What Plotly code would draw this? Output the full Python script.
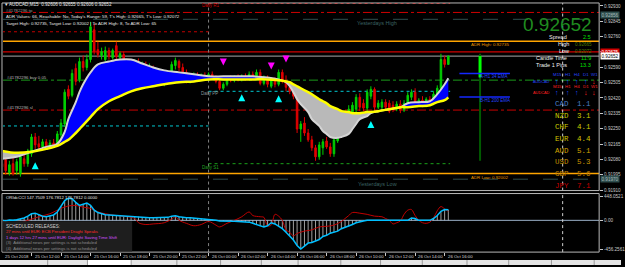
import numpy as np
import plotly.graph_objects as go

W, H = 625, 267
FONT = "Liberation Sans"
MONO = "Liberation Mono"

# ---------------- data ----------------
opens = [0.92056, 0.92078, 0.92006, 0.92056, 0.92017, 0.92001, 0.92083, 0.92056, 0.92111, 0.92204,
         0.92166, 0.92149, 0.92177, 0.92155, 0.92171, 0.92160, 0.92215, 0.92276, 0.92468, 0.92435,
         0.92584, 0.92523, 0.92622, 0.92589, 0.92633, 0.92798, 0.92688, 0.92655, 0.92633, 0.92683,
         0.92644, 0.92710, 0.92644, 0.92661, 0.92611, 0.92567, 0.92589, 0.92617, 0.92567, 0.92606,
         0.92556, 0.92589, 0.92562, 0.92540, 0.92496, 0.92523, 0.92545, 0.92600, 0.92622, 0.92589,
         0.92562, 0.92518, 0.92523, 0.92545, 0.92529, 0.92545, 0.92534, 0.92551, 0.92529, 0.92512,
         0.92474, 0.92496, 0.92523, 0.92518, 0.92534, 0.92523, 0.92540, 0.92529, 0.92551, 0.92534,
         0.92562, 0.92501, 0.92529, 0.92485, 0.92518, 0.92496, 0.92562, 0.92518, 0.92479, 0.92457,
         0.92430, 0.92248, 0.92281, 0.92226, 0.92188, 0.92144, 0.92094, 0.92144, 0.92182, 0.92149,
         0.92111, 0.92182, 0.92226, 0.92243, 0.92287, 0.92336, 0.92358, 0.92424, 0.92391, 0.92364,
         0.92430, 0.92468, 0.92369, 0.92369, 0.92397, 0.92391, 0.92380, 0.92358, 0.92386, 0.92353,
         0.92391, 0.92424, 0.92452, 0.92386, 0.92408, 0.92380, 0.92413, 0.92391, 0.92435, 0.92474,
         0.92633, 0.92606]
highs = [0.92094, 0.92105, 0.92072, 0.92094, 0.92083, 0.92111, 0.92105, 0.92138, 0.92221, 0.92226,
         0.92210, 0.92193, 0.92193, 0.92188, 0.92193, 0.92237, 0.92303, 0.92468, 0.92490, 0.92578,
         0.92611, 0.92644, 0.92655, 0.92661, 0.92842, 0.92831, 0.92732, 0.92699, 0.92705, 0.92699,
         0.92694, 0.92732, 0.92677, 0.92677, 0.92633, 0.92633, 0.92633, 0.92639, 0.92622, 0.92622,
         0.92611, 0.92600, 0.92578, 0.92556, 0.92540, 0.92551, 0.92622, 0.92644, 0.92633, 0.92611,
         0.92578, 0.92556, 0.92562, 0.92562, 0.92556, 0.92562, 0.92562, 0.92567, 0.92545, 0.92529,
         0.92507, 0.92534, 0.92545, 0.92545, 0.92551, 0.92551, 0.92556, 0.92567, 0.92567, 0.92578,
         0.92578, 0.92545, 0.92545, 0.92534, 0.92534, 0.92578, 0.92578, 0.92545, 0.92507, 0.92485,
         0.92446, 0.92292, 0.92314, 0.92248, 0.92210, 0.92160, 0.92177, 0.92193, 0.92204, 0.92171,
         0.92199, 0.92254, 0.92270, 0.92303, 0.92380, 0.92397, 0.92441, 0.92446, 0.92413, 0.92468,
         0.92485, 0.92479, 0.92408, 0.92413, 0.92413, 0.92408, 0.92402, 0.92402, 0.92408, 0.92408,
         0.92452, 0.92468, 0.92474, 0.92419, 0.92430, 0.92424, 0.92430, 0.92457, 0.92490, 0.92665,
         0.92655, 0.92655]
lows = [0.92017, 0.91995, 0.91990, 0.91990, 0.91995, 0.91984, 0.92039, 0.92039, 0.92094, 0.92138,
        0.92127, 0.92133, 0.92138, 0.92144, 0.92144, 0.92149, 0.92199, 0.92259, 0.92413, 0.92424,
        0.92490, 0.92507, 0.92567, 0.92573, 0.92617, 0.92661, 0.92644, 0.92633, 0.92622, 0.92633,
        0.92633, 0.92633, 0.92611, 0.92567, 0.92551, 0.92545, 0.92556, 0.92556, 0.92545, 0.92540,
        0.92534, 0.92534, 0.92523, 0.92490, 0.92485, 0.92501, 0.92529, 0.92578, 0.92567, 0.92545,
        0.92501, 0.92501, 0.92507, 0.92512, 0.92518, 0.92523, 0.92523, 0.92518, 0.92501, 0.92463,
        0.92463, 0.92485, 0.92507, 0.92507, 0.92512, 0.92512, 0.92518, 0.92523, 0.92523, 0.92523,
        0.92490, 0.92490, 0.92479, 0.92474, 0.92479, 0.92485, 0.92501, 0.92457, 0.92441, 0.92413,
        0.92226, 0.92177, 0.92210, 0.92177, 0.92127, 0.92072, 0.92078, 0.92105, 0.92138, 0.92094,
        0.92094, 0.92171, 0.92199, 0.92226, 0.92270, 0.92314, 0.92336, 0.92347, 0.92347, 0.92347,
        0.92413, 0.92347, 0.92358, 0.92353, 0.92353, 0.92336, 0.92342, 0.92347, 0.92336, 0.92342,
        0.92380, 0.92408, 0.92369, 0.92375, 0.92369, 0.92369, 0.92375, 0.92380, 0.92419, 0.92463,
        0.92589, 0.92606]
closes = [0.92039, 0.92017, 0.92050, 0.92001, 0.92067, 0.92094, 0.92056, 0.92127, 0.92204, 0.92160,
          0.92149, 0.92177, 0.92155, 0.92171, 0.92160, 0.92221, 0.92281, 0.92452, 0.92430, 0.92556,
          0.92512, 0.92622, 0.92589, 0.92633, 0.92815, 0.92677, 0.92661, 0.92677, 0.92683, 0.92650,
          0.92683, 0.92650, 0.92666, 0.92589, 0.92578, 0.92611, 0.92617, 0.92578, 0.92606, 0.92556,
          0.92589, 0.92551, 0.92540, 0.92501, 0.92529, 0.92545, 0.92606, 0.92628, 0.92589, 0.92562,
          0.92518, 0.92540, 0.92545, 0.92529, 0.92545, 0.92534, 0.92551, 0.92529, 0.92512, 0.92474,
          0.92496, 0.92523, 0.92518, 0.92534, 0.92523, 0.92540, 0.92529, 0.92551, 0.92534, 0.92562,
          0.92501, 0.92529, 0.92496, 0.92518, 0.92496, 0.92562, 0.92518, 0.92479, 0.92457, 0.92430,
          0.92248, 0.92276, 0.92226, 0.92188, 0.92144, 0.92094, 0.92160, 0.92177, 0.92149, 0.92111,
          0.92188, 0.92237, 0.92254, 0.92287, 0.92358, 0.92380, 0.92424, 0.92369, 0.92364, 0.92452,
          0.92468, 0.92369, 0.92391, 0.92397, 0.92369, 0.92347, 0.92358, 0.92386, 0.92353, 0.92391,
          0.92435, 0.92452, 0.92386, 0.92408, 0.92380, 0.92413, 0.92391, 0.92441, 0.92474, 0.92633,
          0.92606, 0.92652]
bar_idx = list(range(len(opens)))

# moving averages (sampled bars)
ma_idx = [0, 4, 8, 12, 15, 17, 18, 20, 21, 22, 24, 26, 29, 32, 35, 38, 41, 44, 48, 52,
          56, 60, 64, 68, 72, 75, 77, 78, 79, 80, 81, 83, 84, 86, 87, 88, 89, 91, 92, 94,
          95, 96, 97, 99, 100, 102, 105, 108, 110, 113, 116, 118, 120, 121]
ma_fast = [0.92083, 0.92094, 0.92122, 0.92149, 0.92166, 0.92232, 0.92303, 0.92397, 0.92452, 0.92496,
           0.92562, 0.92606, 0.92622, 0.92633, 0.92633, 0.92611, 0.92589, 0.92573, 0.92562, 0.92551,
           0.92540, 0.92540, 0.92540, 0.92540, 0.92534, 0.92523, 0.92507, 0.92485, 0.92452, 0.92413,
           0.92386, 0.92342, 0.92303, 0.92265, 0.92237, 0.92221, 0.92204, 0.92199, 0.92204, 0.92221,
           0.92248, 0.92276, 0.92303, 0.92320, 0.92336, 0.92347, 0.92358, 0.92369, 0.92391, 0.92397,
           0.92402, 0.92441, 0.92496, 0.92529]
ma_slow = [0.92127, 0.92116, 0.92122, 0.92138, 0.92155, 0.92177, 0.92188, 0.92226, 0.92248, 0.92270,
           0.92314, 0.92358, 0.92402, 0.92430, 0.92457, 0.92474, 0.92485, 0.92496, 0.92507, 0.92512,
           0.92523, 0.92523, 0.92523, 0.92523, 0.92523, 0.92518, 0.92512, 0.92507, 0.92496, 0.92485,
           0.92474, 0.92452, 0.92441, 0.92413, 0.92402, 0.92391, 0.92375, 0.92358, 0.92347, 0.92342,
           0.92336, 0.92336, 0.92336, 0.92342, 0.92342, 0.92347, 0.92358, 0.92369, 0.92369, 0.92375,
           0.92380, 0.92397, 0.92408, 0.92424]

# oscillator
cci_fast = [0, -10, 5, 0, 10, 20, 40, 70, 110, 120,
            90, 70, 60, 75, 90, 140, 230, 330, 370, 360,
            300, 250, 270, 290, 250, 170, 130, 110, 95, 90,
            85, 80, 75, 70, 70, 65, 60, 60, 55, 50,
            45, 45, 45, 45, 45, 50, 70, 75, 60, 50,
            45, 45, 40, 35, 30, 25, 15, 10, 0, -10,
            -10, -5, -15, -15, -20, -25, -25, -30, -50, -70,
            -90, -110, -90, -40, -60, -100, -140, -200, -260, -330,
            -420, -480, -430, -380, -370, -340, -320, -270, -250, -215,
            -200, -180, -140, -120, -100, -70, -40, -20, -10, 0,
            0, -10, -5, 0, -5, -10, -5, -5, -10, -5,
            0, 40, 30, 0, 0, 0, 0, 30, 80, 150,
            180, 176.7812]
cci_slow_idx = [0, 5, 7, 10, 13, 16, 18, 20, 22, 24, 26, 28, 31, 34, 36, 37, 39, 41, 44, 46,
                47, 48, 50, 52, 54, 56, 58, 59, 61, 63, 65, 67, 68, 70, 71, 72, 73, 74, 75, 76,
                77, 78, 79, 80, 82, 84, 86, 88, 90, 92, 93, 94, 95, 97, 99, 101, 103, 104, 105, 106,
                107, 108, 109, 110, 111, 112, 113, 114, 115, 116, 117, 118, 119, 120, 121]
cci_slow = [-20, -40, 0, 60, 110, 200, 240, 250, 220, 200, 140, 110, 80, 60, 30, -40, -70, -60, -40, 20,
            60, 0, -50, -90, -70, -20, -80, -110, -50, 0, 60, 140, 80, 60, 50, -90, -80, 100, 70, 0,
            -160, -200, -260, -220, -180, -160, -110, -100, -80, -20, 30, 80, 130, 120, 100, 70, 60, 30, 0, -60,
            -40, -10, 100, 170, 180, 80, 0, -40, -50, -30, 40, 160, 230, 190, 147.7509]

time_tick_bars = [0, 8, 16, 24, 32, 40, 48, 56, 64, 72, 80, 88, 96, 104, 112, 120]
time_tick_labels = ["25 Oct 2018", "25 Oct 12:00", "25 Oct 14:00", "25 Oct 16:00", "25 Oct 18:00",
                    "25 Oct 20:00", "25 Oct 22:00", "26 Oct 00:00", "26 Oct 02:00", "26 Oct 04:00",
                    "26 Oct 06:00", "26 Oct 08:00", "26 Oct 10:00", "26 Oct 12:00", "26 Oct 14:00",
                    "26 Oct 16:00"]
price_ticks = [0.92930, 0.92845, 0.92760, 0.92675, 0.92590, 0.92505, 0.92420, 0.92335,
               0.92250, 0.92165, 0.92080, 0.91995, 0.91910]
osc_tick_text = ["448.0521", "0.00", "-456.2561"]

# levels
daily_r1 = 0.92944
tp_level = 0.92894
yest_high = 0.92856
prev_r1 = 0.92787
adr_high = 0.92735
red_level = 0.92675
bid = 0.92652
buy_level = 0.92519
daily_pp = 0.92457
sl_level = 0.92353
prev_pp = 0.92265
daily_s1 = 0.92056
adr_low = 0.92002
yest_low = 0.91970
day_start_bar = 56
next_day_bar = 152

up_arrow_bars = [9, 65, 75, 100]
up_arrow_prices = [0.92064, 0.92441, 0.92435, 0.92292]
down_arrow_bars = [60, 73, 77]
down_arrow_prices = [0.92600, 0.92578, 0.92617]

day_candle_bar = 129.6
day_open, day_high, day_low = 0.92534, 0.92665, 0.92072
ema_bar_span = [124, 137.7]
h1_ema34, h1_ema200 = 0.92556, 0.92426

ccy_names = ["CAD", "NZD", "CHF", "EUR", "AUD", "USD", "GBP", "JPY"]
ccy_values = [1.1, 3.1, 4.1, 4.4, 5.1, 5.3, 5.6, 7.1]
timeframes = ["M15", "H1", "H4", "D1", "W1"]
trend_row1 = ["up", "up", "up", "up", "down"]
trend_row2 = ["up", "up", "up", "down", "down"]

# ---------------- geometry ----------------
def fx(px):
    return px / W

def fy(py):
    return 1 - py / H

BAR_PX, BAR0_PX = 3.7125, 2.0
PX0, PX1 = 3, 603
x_range = [(PX0 - BAR0_PX) / BAR_PX, (PX1 - BAR0_PX) / BAR_PX]
MAIN_TOP, MAIN_BOT = 3, 192
SUB_TOP, SUB_BOT = 195, 254
P_AT0, P_PER_PX = 0.92963, 0.000055
y_range = [P_AT0 - P_PER_PX * MAIN_BOT, P_AT0 - P_PER_PX * MAIN_TOP]
osc_range = [-531, 448]

fig = go.Figure()

# MA cloud fills
f = np.array(ma_fast)
s = np.array(ma_slow)
common = dict(mode="lines", hoverinfo="skip", xaxis="x", yaxis="y")
fig.add_trace(go.Scatter(x=ma_idx, y=ma_slow, line=dict(width=0, shape="spline"), **common))
fig.add_trace(go.Scatter(x=ma_idx, y=np.maximum(f, s), line=dict(width=0, shape="spline"),
                         fill="tonexty", fillcolor="#0000ff", **common))
fig.add_trace(go.Scatter(x=ma_idx, y=ma_slow, line=dict(width=0, shape="spline"), **common))
fig.add_trace(go.Scatter(x=ma_idx, y=np.minimum(f, s), line=dict(width=0, shape="spline"),
                         fill="tonexty", fillcolor="#b9b9b9", **common))

# candles
fig.add_trace(go.Candlestick(
    x=bar_idx, open=opens, high=highs, low=lows, close=closes,
    increasing=dict(line=dict(color="#00d000", width=1), fillcolor="#00d000"),
    decreasing=dict(line=dict(color="#e00000", width=1), fillcolor="#e00000"),
    whiskerwidth=0, hoverinfo="skip", xaxis="x", yaxis="y"))

# MA lines
fig.add_trace(go.Scatter(x=ma_idx, y=ma_fast, line=dict(color="#d4d4d4", width=2, shape="spline"), **common))
fig.add_trace(go.Scatter(x=ma_idx, y=ma_slow, line=dict(color="#ffff00", width=2.5, shape="spline"), **common))

# signal arrows
fig.add_trace(go.Scatter(x=up_arrow_bars, y=up_arrow_prices, mode="markers", hoverinfo="skip",
                         marker=dict(symbol="arrow-up", size=7, color="#00ffff"), xaxis="x", yaxis="y"))
fig.add_trace(go.Scatter(x=down_arrow_bars, y=down_arrow_prices, mode="markers", hoverinfo="skip",
                         marker=dict(symbol="arrow-down", size=7, color="#ff00ff"), xaxis="x", yaxis="y"))

# daily candle projection
fig.add_trace(go.Scatter(x=[day_candle_bar, day_candle_bar], y=[day_low, day_open], mode="lines",
                         line=dict(color="#005a00", width=2), hoverinfo="skip", xaxis="x", yaxis="y"))
fig.add_trace(go.Scatter(x=[day_candle_bar, day_candle_bar], y=[day_open, closes[-1]], mode="lines",
                         line=dict(color="#00ff00", width=3), hoverinfo="skip", xaxis="x", yaxis="y"))
fig.add_trace(go.Scatter(x=[day_candle_bar, day_candle_bar], y=[closes[-1], day_high], mode="lines",
                         line=dict(color="#005a00", width=2), hoverinfo="skip", xaxis="x", yaxis="y"))

# H1 EMA markers
for lvl in (h1_ema34, h1_ema200):
    fig.add_trace(go.Scatter(x=ema_bar_span, y=[lvl, lvl], mode="lines", line=dict(color="#1428ff", width=1.5),
                             hoverinfo="skip", xaxis="x", yaxis="y"))

# oscillator histogram + lines
hx, hy = [], []
for i, v in zip(bar_idx, cci_fast):
    hx += [i, i, None]
    hy += [0, v, None]
fig.add_trace(go.Scatter(x=hx, y=hy, mode="lines", line=dict(color="#c8c8c8", width=0.8),
                         hoverinfo="skip", xaxis="x2", yaxis="y2"))
fig.add_trace(go.Scatter(x=cci_slow_idx, y=cci_slow, mode="lines", line=dict(color="#c00000", width=1, shape="spline"),
                         hoverinfo="skip", xaxis="x2", yaxis="y2"))
fig.add_trace(go.Scatter(x=bar_idx, y=cci_fast, mode="lines", line=dict(color="#00bfff", width=1.5),
                         hoverinfo="skip", xaxis="x2", yaxis="y2"))

# ---------------- shapes ----------------
shapes = []

def hline(price, color, dash="solid", width=1, x0=None, x1=None):
    if x0 is None:
        shapes.append(dict(type="line", xref="x domain", yref="y", x0=0, x1=1, y0=price, y1=price,
                           line=dict(color=color, dash=dash, width=width), layer="below"))
    else:
        shapes.append(dict(type="line", xref="x", yref="y", x0=x0, x1=x1, y0=price, y1=price,
                           line=dict(color=color, dash=dash, width=width), layer="below"))

last_bar = bar_idx[-1] + 0.5
hline(daily_r1, "#d00000", "dot", 1, day_start_bar, last_bar)
hline(tp_level, "#d00000", "dashdot", 1)
hline(yest_high, "#2f4f4f", "longdash", 1)
hline(prev_r1, "#c00000", "dot", 1, 0, day_start_bar)
hline(adr_high, "#ffa500", "solid", 1.5)
hline(red_level, "#d00000", "solid", 1.2)
hline(bid, "#a8a8a8", "solid", 1)
hline(buy_level, "#1a9a1a", "dashdot", 1)
hline(daily_pp, "#00c8d0", "dot", 1, day_start_bar, last_bar)
hline(prev_pp, "#00c8d0", "dot", 1, 0, day_start_bar)
hline(sl_level, "#c80000", "dashdot", 1)
hline(daily_s1, "#1aa01a", "dot", 1, day_start_bar, last_bar)
hline(adr_low, "#ffa500", "solid", 1.5)
hline(yest_low, "#2f4f4f", "longdash", 1)

# oscillator zero line
shapes.append(dict(type="line", xref="x2 domain", yref="y2", x0=0, x1=1, y0=0, y1=0,
                   line=dict(color="#9ab0c8", width=1), layer="below"))

# period separators
for (y0, y1) in ((fy(MAIN_BOT), fy(MAIN_TOP)), (fy(SUB_BOT), fy(SUB_TOP))):
    shapes.append(dict(type="line", xref="x", yref="paper", x0=day_start_bar, x1=day_start_bar, y0=y0, y1=y1,
                       line=dict(color="#808080", width=1, dash="dot"), layer="below"))
    shapes.append(dict(type="line", xref="x", yref="paper", x0=next_day_bar, x1=next_day_bar, y0=y0, y1=y1,
                       line=dict(color="#d0d0d0", width=1, dash="dot"), layer="below"))

# panel borders
for (t, b) in ((MAIN_TOP, MAIN_BOT), (SUB_TOP, SUB_BOT)):
    shapes.append(dict(type="rect", xref="paper", yref="paper", x0=fx(2), x1=fx(PX1), y0=fy(b), y1=fy(t),
                       line=dict(color="#b8b8b8", width=1), fillcolor="rgba(0,0,0,0)", layer="above"))

# news box
shapes.append(dict(type="rect", xref="paper", yref="paper", x0=fx(2.5), x1=fx(133), y0=fy(253.5), y1=fy(223),
                   line=dict(width=0), fillcolor="#1e1e1e", layer="above"))

# tab bar
shapes.append(dict(type="rect", xref="paper", yref="paper", x0=0, x1=1, y0=0, y1=fy(262),
                   line=dict(width=0), fillcolor="#e4e4e4", layer="above"))
shapes.append(dict(type="rect", xref="paper", yref="paper", x0=fx(88), x1=fx(132), y0=0, y1=fy(262),
                   line=dict(width=0), fillcolor="#ffffff", layer="above"))
for sx in (48, 88, 132, 178, 222, 263, 300, 343, 383, 425, 470, 512, 555, 598):
    shapes.append(dict(type="line", xref="paper", yref="paper", x0=fx(sx), x1=fx(sx), y0=0, y1=fy(262),
                       line=dict(color="#9a9a9a", width=1), layer="above"))

# ---------------- annotations ----------------
ann = []

def txt(px, py, text, color, size, anchor="left", family=FONT, **kw):
    ann.append(dict(x=fx(px), y=fy(py), xref="paper", yref="paper", text=text, showarrow=False,
                    xanchor=anchor, yanchor="middle", font=dict(family=family, size=size, color=color), **kw))

# header
txt(3, 5, "\u25be AUDCAD,M15  %.5f %.5f %.5f %.5f" % (opens[-1], highs[-1], lows[-1], closes[-1]), "#e8e8e8", 4.6)
txt(4, 10.5, "#41782296 tp", "#9a9a9a", 4.3)
txt(4, 17, "ADR Values: 66, Reachable: No, Today's Range: 59, T's High: %.5f, T's Low: %.5f" % (day_high, day_low),
    "#e8e8e8", 4.4)
txt(4, 23.5, "Target High: %.5f, Target Low: %.5f | To ADR High: 8, To ADR Low: 65" % (adr_high, adr_low),
    "#e8e8e8", 4.4)

# level labels
txt(201, 6, "Daily R1", "#d00000", 4.5)
txt(357, 23.5, "Yesterdays High", "#3b6262", 5.5)
txt(472, 44.5, "ADR High: %.5f" % adr_high, "#e69500", 4.4)
txt(5, 78, "#41782296 buy 0.05", "#b8b8b8", 4.3)
txt(5, 108, "#41782296 sl", "#b8b8b8", 4.3)
txt(200, 94.5, "Daily PP", "#8a9a9a", 4.5)
txt(201, 169, "Daily S1", "#22a022", 4.5)
txt(472, 179, "ADR Low: %.5f" % adr_low, "#e69500", 4.4)
txt(358, 185, "Yesterdays Low", "#3b6262", 5.5)
txt(481, 77.5, "A-H1 34 EMA", "#2846ff", 4.5)
txt(481, 101, "B-H1 200 EMA", "#2846ff", 4.5)

# info panel
txt(598, 25, "%.5f" % closes[-1], "#1f8c1f", 19, anchor="right")
txt(573, 37, "Spread", "#f0f0f0", 5.5, anchor="right")
txt(597, 37, "2.5", "#00e000", 5.5, anchor="right")
txt(575, 44.5, "High", "#f0f0f0", 5.5, anchor="right")
txt(576.5, 44.5, "%.5f" % day_high, "#4b7d00", 4.6)
txt(575, 51.5, "Low", "#f0f0f0", 5.5, anchor="right")
txt(576.5, 51.5, "%.5f" % day_low, "#4b7d00", 4.6)
txt(573, 58.5, "Candle Time", "#f0f0f0", 5.5, anchor="right")
txt(597, 58.5, "11:9", "#00e000", 5.5, anchor="right")
txt(573, 65.5, "Trade 1 Pips", "#f0f0f0", 5.5, anchor="right")
txt(597, 65.5, "13.3", "#00e000", 5.5, anchor="right")

# trend arrow table
cols = [561, 572, 581, 590, 598]
arrow = {"up": ("\u2191", "#1e50ff"), "down": ("\u2193", "#ff2020")}
for tf, cx in zip(timeframes, cols):
    txt(cx, 75, tf, "#2846ff", 4.4, anchor="center")
    txt(cx, 87.5, tf, "#ff2020", 4.4, anchor="center")
txt(556, 82, "AUDCAD", "#2846ff", 3.9, anchor="right")
txt(556, 93.5, "AUDCAD", "#ff2020", 3.9, anchor="right")
for d, cx in zip(trend_row1, cols):
    ch, col = arrow[d]
    txt(cx, 82, "<b>%s</b>" % ch, col, 7, anchor="center")
for d, cx in zip(trend_row2, cols):
    ch, col = arrow[d]
    txt(cx, 93.5, "<b>%s</b>" % ch, col, 7, anchor="center")

# currency strength
ccy_colors = ["#4a80c8", "#cccc00", "#cccc00", "#d2c400", "#d4a400", "#c89400", "#c08000", "#c80000"]
for k, (nm, val, col) in enumerate(zip(ccy_names, ccy_values, ccy_colors)):
    yy = 105 + k * 11.7
    txt(557, yy, nm, col, 7.5, family=MONO)
    txt(579, yy, "%.1f" % val, col, 7.5, family=MONO)

# axis boxes
boxed = []

def axbox(price, text, bg, fg, yanchor="middle"):
    boxed.append(price)
    ann.append(dict(x=fx(604), y=price, xref="paper", yref="y", text=text, showarrow=False,
                    xanchor="left", yanchor=yanchor, bgcolor=bg, borderpad=0.5,
                    font=dict(family=FONT, size=4.6, color=fg)))

axbox(yest_high, "%.5f" % yest_high, "#2f4f4f", "#a8b8b8", yanchor="bottom")
axbox(red_level, "%.5f" % red_level, "#d00000", "#ffffff")
axbox(bid, "%.5f" % bid, "#ffffff", "#000000")
axbox(yest_low, "%.5f" % yest_low, "#2f4f4f", "#a8b8b8")

# price tick labels (a boxed level replaces the ladder label at the same price)
price_tick_text = ["" if any(abs(p - b) < 0.00004 for b in boxed) else "%.5f" % p for p in price_ticks]

# oscillator header
txt(4, 198.5, "ORIdcCCI %.4f %.4f %.4f 0.0000" % (cci_slow[-1], cci_fast[-1], cci_fast[-1]), "#e8e8e8", 4.3)

# news lines
txt(4, 228, "SCHEDULED RELEASES:", "#d0d0d0", 4.5)
txt(4, 233.5, "27 mins until EUR: ECB President Draghi Speaks", "#ff2a2a", 4.2)
txt(4, 239, "1 days 12 hrs 27 mins until EUR: Daylight Saving Time Shift", "#d050ff", 4.2)
txt(4, 244.5, "(3)  Additional news per settings is not scheduled", "#8c8c8c", 4.2)
txt(4, 250, "(4)  Additional news per settings is not scheduled", "#8c8c8c", 4.2)

# time labels
for b, lab in zip(time_tick_bars, time_tick_labels):
    ann.append(dict(x=b + 0.3, y=fy(258), xref="x", yref="paper", text=lab, showarrow=False,
                    xanchor="left", yanchor="middle", font=dict(family=FONT, size=4.3, color="#d8d8d8")))

tickfont = dict(family=FONT, size=4.6, color="#c8c8c8")
fig.update_layout(
    width=W, height=H, margin=dict(l=0, r=0, t=0, b=0),
    paper_bgcolor="#000000", plot_bgcolor="#000000", showlegend=False,
    boxgap=0.4,
    xaxis=dict(domain=[fx(PX0), fx(PX1)], range=x_range, anchor="y", showgrid=False, zeroline=False,
               showticklabels=False, rangeslider=dict(visible=False), showline=False),
    yaxis=dict(domain=[fy(MAIN_BOT), fy(MAIN_TOP)], range=y_range, anchor="x", side="right",
               tickvals=price_ticks, ticktext=price_tick_text, tickfont=tickfont,
               ticks="outside", ticklen=3, tickcolor="#c8c8c8", showgrid=False, zeroline=False, showline=False),
    xaxis2=dict(domain=[fx(PX0), fx(PX1)], range=x_range, anchor="y2", matches="x", showgrid=False,
                zeroline=False, showticklabels=False, ticks="outside", tickvals=time_tick_bars, ticklen=3,
                tickcolor="#c8c8c8", showline=False),
    yaxis2=dict(domain=[fy(SUB_BOT), fy(SUB_TOP)], range=osc_range, anchor="x2", side="right",
                tickvals=[398, 0, -481], ticktext=osc_tick_text, tickfont=tickfont, ticks="outside",
                ticklen=3, tickcolor="#c8c8c8", showgrid=False, zeroline=False, showline=False),
    shapes=shapes, annotations=ann,
)

fig.write_html("out.html")
